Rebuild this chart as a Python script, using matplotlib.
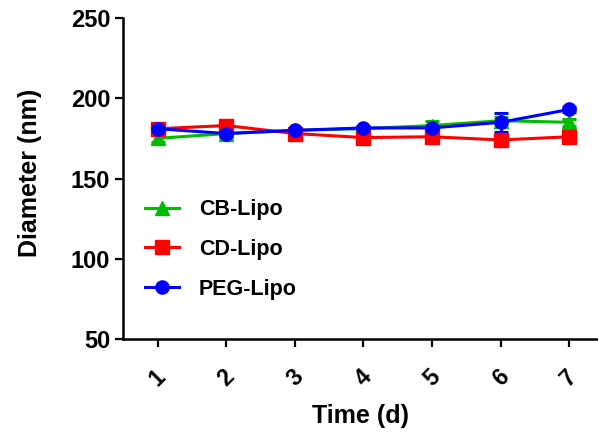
import numpy as np
import matplotlib
matplotlib.use('Agg')
import matplotlib.pyplot as plt


# Particle size over storage time
# -------------------------------
days = [1, 2, 3, 4, 5, 6, 7]

cb_lipo = [175, 178, 180, 181, 183, 186, 185]
cb_sd = [2, 1.5, 1, 1, 3, 2, 2]

cd_lipo = [181, 183, 178, 175.5, 176, 174, 176]
cd_sd = [2, 2, 1.5, 1.5, 1.5, 2, 2]

peg_lipo = [181, 178, 180, 181.5, 181.5, 185, 193]
peg_sd = [2, 2, 1.5, 1.5, 1.5, 6, 1.5]

labels = ['CB-Lipo', 'CD-Lipo', 'PEG-Lipo']


# Figure setup
# ------------
plt.rcParams['font.family'] = ['Liberation Sans', 'DejaVu Sans']
plt.rcParams['font.weight'] = 'bold'

fig = plt.figure(figsize=(5.98, 4.37), dpi=100)
ax = fig.add_axes([0.2065, 0.224, 0.7935, 0.735])

series = [
    (cb_lipo, cb_sd, '#00BB00', '^'),
    (cd_lipo, cd_sd, '#FF0000', 's'),
    (peg_lipo, peg_sd, '#0000FF', 'o'),
]
for (vals, err, col, mk), lab in zip(series, labels):
    ax.errorbar(days, vals, yerr=err, color=col, marker=mk, markersize=9.5,
                linewidth=2.2, elinewidth=2.2, capsize=5, capthick=2.2,
                label=lab)

# Axes styling
# ------------
ax.set_xlim(0.5, 7.42)
ax.set_ylim(50, 250)
ax.set_xticks(days)
ax.set_yticks([50, 100, 150, 200, 250])
ax.set_xticklabels([str(d) for d in days], rotation=45, fontsize=16.5,
                   fontweight='bold', ha='center', va='center')
ax.tick_params(axis='x', pad=22)
for t in ax.get_yticklabels():
    t.set_fontsize(17)
    t.set_fontweight('bold')
ax.tick_params(direction='out', length=6, width=1.6)

for side in ['top', 'right']:
    ax.spines[side].set_visible(False)
for side in ['left', 'bottom']:
    ax.spines[side].set_linewidth(1.8)

ax.set_xlabel('Time (d)', fontsize=18, fontweight='bold')
ax.set_ylabel('Diameter (nm)', fontsize=18, fontweight='bold')
ax.xaxis.set_label_coords(0.5, -0.203)
ax.yaxis.set_label_coords(-0.172, 0.517)

handles, _ = ax.get_legend_handles_labels()
handles = [h[0] for h in handles]
ax.legend(handles, labels, loc='upper left', bbox_to_anchor=(0.045, 0.436),
          frameon=False, fontsize=15.5, handlelength=1.6, handletextpad=0.9,
          labelspacing=0.88, borderaxespad=0, borderpad=0)

plt.savefig('out.png', dpi=100)
plt.close('all')
